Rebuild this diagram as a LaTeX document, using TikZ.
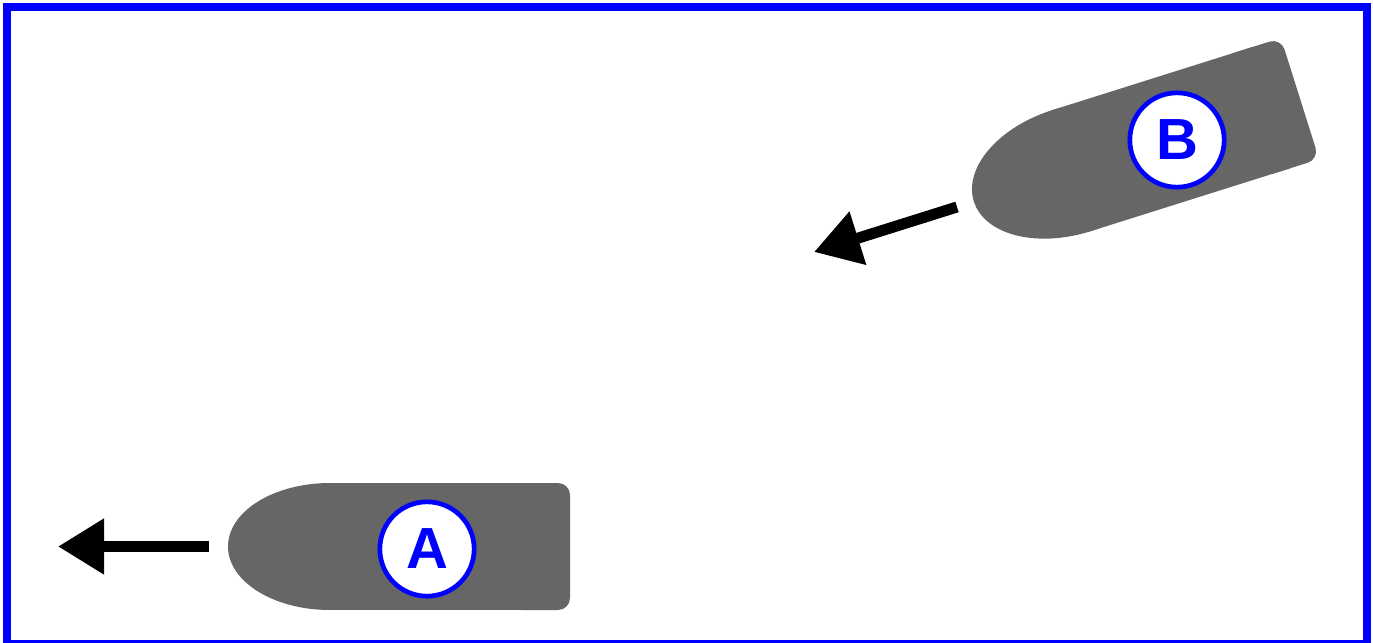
\documentclass[tikz,border=0pt]{standalone}
\usepackage{fontspec}
\setmainfont{Liberation Sans}
\usepackage{tikz}
\usetikzlibrary{arrows.meta,positioning}
\definecolor{hullgray}{HTML}{666666}

\begin{document}
\begin{tikzpicture}[x=0.01cm,y=-0.01cm,
			boatlabel/.style={circle,draw=blue,fill=white,line width=0.047cm,
				minimum size=0.943cm,inner sep=0pt,text=blue,
				font=\fontsize{16.5}{16.5}\selectfont\bfseries},
			course/.style={line width=0.11cm,-{Triangle[length=0.46cm,width=0.53cm]}},
			boat/.pic={
				\fill[hullgray] (-240,0) ellipse [x radius=102,y radius=63.5];
				\fill[hullgray] (-241,-63.5) rectangle (-30,63.5);
				\fill[hullgray,rounded corners=0.12cm] (-60,-63.5) rectangle (0,63.5);
			}]

			\useasboundingbox (0,0) rectangle (1373,643);
			\draw[blue,line width=0.08cm] (7,7) rectangle (1367,644);

			% boats
			\pic at (570,546.5) {boat};
			\pic[rotate=17.5] at (1300,98.6) {boat};

			\node[boatlabel] (A) at (427,549) {A};
			\node[boatlabel] (B) at (1177,140) {B};

			% headings
			\coordinate (A tail) at (209,546.5);
			\coordinate (A head) at (58,546.5);
			\coordinate (B tail) at (957,207);
			\coordinate (B head) at (814,252);
			\draw[course] (A tail) -- (A head);
			\draw[course] (B tail) -- (B head);
	\end{tikzpicture}
\end{document}
